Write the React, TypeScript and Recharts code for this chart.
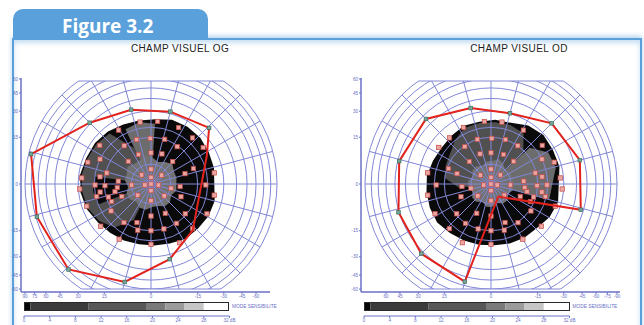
import React from 'react';
import {
  ComposedChart,
  BarChart,
  Bar,
  Scatter,
  XAxis,
  YAxis,
  ReferenceLine,
  RadarChart,
  Radar,
  PolarGrid,
  PolarAngleAxis,
  PolarRadiusAxis,
} from 'recharts';

const FONT = '"Liberation Sans", Arial, Helvetica, sans-serif';
const AXIS_BLUE = '#6b71c6';
const GRID_BLUE = '#8287d6';
const FRAME_BLUE = '#5aa0da';

// Perimeter projection: eccentricity (degrees) -> radius, 1 at 90 degrees
const K = 13;
const toR = (ecc: number) => Math.log(1 + ecc / K) / Math.log(1 + 90 / K);
const signedR = (v: number) => Math.sign(v) * toR(Math.abs(v));
const polar = (angle: number, ecc: number) => {
  const r = toR(ecc);
  const a = (angle * Math.PI) / 180;
  return { x: r * Math.cos(a), y: r * Math.sin(a) };
};

// ---------- grid & axes ----------
const MERIDIANS = [0, 15, 30, 45, 60, 75, 90, 105, 120, 135, 150, 165, 180, 195, 210, 225, 240, 255, 270, 285, 300, 315, 330, 345];
const RING_DEG = [5, 15, 20, 30, 40, 50, 60, 70, 80, 90];
const Y_TICK_DEG = [60, 45, 30, 15, 0, -15, -30, -45, -60];
const OG_X_TICK_DEG = [90, 75, 60, 45, 30, 15, 0, -15, -30, -45, -60];
const OD_X_TICK_DEG = [60, 45, 30, 15, 0, -15, -30, -45, -60, -75, -90];

// ---------- sensitivity maps: extent (deg) of each shade along each meridian ----------
const OG_DISK = [24.8, 25.4, 26.4, 26.7, 26.4, 24.8, 24.5, 25.2, 26.7, 27.7, 27.9, 29.1, 28.7, 27.4, 25.1, 24.0, 23.4, 22.7, 22.7, 23.2, 24.6, 24.7, 25.4, 25.4];
const OG_GRAY = [0, 0, 0, 0, 0, 0, 0, 12, 25, 26.5, 27, 28, 27.5, 26.5, 24, 20, 12, 0, 0, 0, 0, 0, 0, 0];
const OG_LIGHT = [0, 0, 0, 0, 0, 22, 23.5, 22, 0, 0, 0, 0, 0, 0, 0, 0, 0, 0, 0, 0, 0, 0, 0, 0];
const OG_HOLE = [0, 0, 0, 0, 0, 0, 0, 0, 0, 0, 0, 20, 21, 20, 0, 0, 0, 0, 0, 0, 0, 0, 0, 0];
const OG_CENTER = [7, 7, 8, 7, 6, 7, 8, 7, 7, 8, 7, 7, 6, 7, 7, 6, 7, 7, 6, 6, 7, 7, 6, 7];

const OD_DISK = [28.5, 28.5, 29.3, 27.6, 24.4, 24.4, 23.8, 24.4, 23.2, 22.6, 23.3, 24.6, 24.8, 25.2, 25.6, 24.1, 23.4, 23.0, 22.6, 23.2, 23.7, 24.0, 26.3, 27.7];
const OD_GRAY = [0, 8, 14, 22, 23, 23, 23, 23, 20, 17, 16, 15, 9, 0, 0, 0, 0, 0, 0, 0, 0, 0, 0, 0];
const OD_LIGHT = [26, 25, 18, 0, 0, 0, 0, 0, 0, 0, 0, 0, 0, 0, 0, 0, 0, 0, 0, 0, 0, 0, 0, 22];
const OD_CENTER = [6, 6, 5, 6, 7, 6, 6, 5, 6, 6, 5, 6, 6, 5, 6, 6, 5, 6, 6, 5, 6, 6, 5, 6];

// ---------- kinetic isopters: [meridian, eccentricity, tested point 1/0] ----------
const OG_ISOPTER: [number, number, number][] = [
  [166, 86, 1], [135, 41, 1], [105, 33, 1], [75, 31.5, 1], [44, 36, 1], [27, 23.4, 0],
  [312, 23.2, 0], [284, 33.4, 1], [255, 55.8, 1], [226, 78.5, 1], [196, 78.4, 1],
];
const OD_ISOPTER: [number, number, number][] = [
  [105, 34.3, 1], [75, 30.3, 1], [45, 40.2, 1], [15, 45.9, 1], [344, 47.3, 1], [300, 3.5, 0],
  [255, 55.4, 1], [225, 52.6, 1], [197, 50.7, 1], [166, 48.5, 1], [135, 45.9, 1],
];

// ---------- static test locations (left eye), [meridian, eccentricity] ----------
const OG_TESTS: [number, number][] = [
  [0, 0], [90, 1.5], [270, 1.5], [189, 1.4], [352, 1.7],
  [90, 3.6], [270, 4.1], [136, 3.1], [40, 3.3], [220, 4.3], [318, 4.4], [183, 4.9], [348, 5.2],
  [90, 8.7], [70, 9], [113, 9], [135, 9], [46, 8.7], [355, 8], [175, 9.3], [186, 9.7], [337, 9.2],
  [296, 9.2], [270, 9], [203, 8.9], [17, 10.3], [192, 10.8],
  [250, 12.5], [204, 13.4], [197, 14], [166, 14.5], [182, 14.7], [108, 15], [91, 14.5], [73, 15],
  [125, 15], [55, 14.5], [20, 14.3], [319, 14.4], [214, 15.7], [235, 15.2], [303, 15.1], [270, 15],
  [254, 15.6], [286, 15],
  [172, 17.3], [189, 17.3], [359, 19], [193, 19.5], [181, 19.6], [154, 20], [270, 22], [313, 22.4],
  [48, 23], [100, 23.5], [84, 23.5], [121, 23.5], [64, 23.5], [332, 23.8], [240, 24], [35, 24],
  [143, 24.3], [10, 24.3], [350, 24.3], [296, 25], [220, 25.2], [161, 26], [199, 26.7], [175, 27.7],
  [184, 29],
];
// the right eye uses the mirrored grid
const OD_TESTS: [number, number][] = OG_TESTS.map(([a, e]) => [(540 - a) % 360, e]);

// ---------- sensitivity scale ----------
const LEGEND_EDGES = [0, 1, 10, 19, 22, 25, 28, 32];
const LEGEND_SHADES = ['#050505', '#3b3b3b', '#575757', '#7a7a7a', '#9b9b9b', '#c6c6c6', '#ffffff'];
const LEGEND_TICKS = [0, 4, 8, 12, 16, 20, 24, 28, 32];

// ---------- layout ----------
const H = 325;
const CY = 184;
const R = 126;
const PLOT_TOP = 78;
const PLOT_BOTTOM = 292;
const CLIP_TOP = 81;
const CLIP_BOTTOM = 289;
const XAXIS_H = 10;

type Layer = { values: number[]; color: string };

type PanelProps = {
  title: string;
  titleX: number;
  left: number;
  width: number;
  cx: number;
  plotLeft: number;
  plotRight: number;
  xTicks: number[];
  layers: Layer[];
  isopter: [number, number, number][];
  tests: [number, number][];
  legendLeft: number;
};

const square = (size: number, fill: string, stroke: string) => (p: any) => (
  <rect x={p.cx - size / 2} y={p.cy - size / 2} width={size} height={size} fill={fill} stroke={stroke} strokeWidth={0.7} />
);

const findLabel = (list: number[], pos: (v: number) => number) => (val: number) => {
  const hit = list.find((t) => Math.abs(pos(t) - val) < 1e-6);
  return hit === undefined ? '' : String(hit);
};

const tickStyle = { fontSize: 4.6, fill: AXIS_BLUE, fontFamily: FONT };

function Panel(props: PanelProps) {
  const { title, titleX, left, width, cx, plotLeft, plotRight, xTicks, layers, isopter, tests, legendLeft } = props;

  const mapRows = MERIDIANS.map((m, i) => {
    const row: Record<string, number> = { meridian: m };
    layers.forEach((l, j) => {
      row[`l${j}`] = l.values[i];
    });
    return row;
  });

  const testPts = tests.map(([a, e]) => polar(a, e));
  const outline = [...isopter, isopter[0]].map(([a, e]) => polar(a, e));
  const marks = isopter.filter((v) => v[2] === 1).map(([a, e]) => polar(a, e));

  const xPos = (v: number) => -signedR(v);
  const yTop = (CY - CLIP_TOP) / R;
  const yBot = -(CLIP_BOTTOM - CY) / R;
  const halfTop = Math.sqrt(1 - yTop * yTop);
  const halfBot = Math.sqrt(1 - yBot * yBot);

  // meridians are 15 deg apart, counter-clockwise from the horizontal
  const radarCommon = {
    width,
    height: H,
    data: mapRows,
    cx: cx - left,
    cy: CY,
    outerRadius: R,
    innerRadius: 0,
    startAngle: 0,
    endAngle: 345,
    margin: { top: 0, right: 0, bottom: 0, left: 0 },
  };

  return (
    <>
      <div
        style={{
          position: 'absolute',
          left: titleX - 80,
          width: 160,
          top: 43,
          textAlign: 'center',
          fontFamily: FONT,
          fontSize: 10,
          letterSpacing: 0.4,
          lineHeight: '12px',
          color: '#1e1e1e',
        }}
      >
        {title}
      </div>

      {/* sensitivity map */}
      <div style={{ position: 'absolute', left, top: 0 }}>
        <RadarChart {...radarCommon}>
          <PolarAngleAxis dataKey="meridian" tick={false} axisLine={false} tickLine={false} />
          <PolarRadiusAxis type="number" domain={[0, 1]} tick={false} axisLine={false} tickLine={false} />
          {layers.map((l, j) => (
            <Radar
              key={j}
              name={`shade${j}`}
              dataKey={(d: any) => toR(d[`l${j}`])}
              fill={l.color}
              fillOpacity={1}
              stroke="none"
              dot={false}
              isAnimationActive={false}
            />
          ))}
        </RadarChart>
      </div>

      {/* polar grid, cut at +/-60 deg */}
      <div style={{ position: 'absolute', left, top: CLIP_TOP, width, height: CLIP_BOTTOM - CLIP_TOP, overflow: 'hidden' }}>
        <div style={{ position: 'absolute', left: 0, top: -CLIP_TOP }}>
          <RadarChart {...radarCommon}>
            <PolarGrid
              gridType="circle"
              polarAngles={MERIDIANS}
              polarRadius={RING_DEG.map((d) => toR(d) * R)}
              stroke={GRID_BLUE}
              strokeWidth={1}
            />
          </RadarChart>
        </div>
      </div>

      {/* axes, isopter and test locations */}
      <div style={{ position: 'absolute', left, top: 0 }}>
        <ComposedChart
          width={width}
          height={H}
          margin={{ top: PLOT_TOP, bottom: H - PLOT_BOTTOM - XAXIS_H, left: 0, right: left + width - plotRight }}
        >
          <XAxis
            type="number"
            dataKey="x"
            domain={[(plotLeft - cx) / R, (plotRight - cx) / R]}
            allowDataOverflow
            ticks={xTicks.map(xPos)}
            interval={0}
            tickFormatter={findLabel(xTicks, xPos)}
            height={XAXIS_H}
            tickSize={2}
            tickMargin={1}
            axisLine={{ stroke: AXIS_BLUE, strokeWidth: 1.5 }}
            tickLine={{ stroke: AXIS_BLUE }}
            tick={tickStyle}
          />
          <YAxis
            type="number"
            dataKey="y"
            domain={[(CY - PLOT_BOTTOM) / R, (CY - PLOT_TOP) / R]}
            allowDataOverflow
            ticks={Y_TICK_DEG.map(signedR)}
            interval={0}
            tickFormatter={findLabel(Y_TICK_DEG, signedR)}
            width={plotLeft - left}
            tickSize={2}
            tickMargin={1}
            axisLine={{ stroke: AXIS_BLUE, strokeWidth: 1.5 }}
            tickLine={{ stroke: AXIS_BLUE }}
            tick={tickStyle}
          />
          <ReferenceLine segment={[{ x: -halfTop, y: yTop }, { x: halfTop, y: yTop }]} stroke={GRID_BLUE} strokeWidth={1} />
          <ReferenceLine segment={[{ x: -halfBot, y: yBot }, { x: halfBot, y: yBot }]} stroke={GRID_BLUE} strokeWidth={1} />
          <Scatter data={testPts} shape={square(4.4, '#eaa5a0', '#c24b47')} isAnimationActive={false} />
          <Scatter
            data={outline}
            line={{ stroke: '#e2231d', strokeWidth: 2 }}
            lineType="joint"
            shape={() => <g />}
            isAnimationActive={false}
          />
          <Scatter data={marks} shape={square(3.6, '#74a597', '#3f6f62')} isAnimationActive={false} />
        </ComposedChart>
      </div>

      <SensitivityLegend left={legendLeft} />
    </>
  );
}

const LEG_W = 205.5;
const LEG_BAR_H = 8.5;
const LEG_SIDE = 8;

function SensitivityLegend({ left }: { left: number }) {
  const row: Record<string, number | string> = { name: 'dB' };
  LEGEND_SHADES.forEach((_, i) => {
    row[`s${i}`] = LEGEND_EDGES[i + 1] - LEGEND_EDGES[i];
  });
  const tickRows = LEGEND_TICKS.map((db) => ({ db }));
  const margin = { top: 0, right: LEG_SIDE, bottom: 0, left: LEG_SIDE };
  return (
    <>
      <div style={{ position: 'absolute', left: left - LEG_SIDE, top: 302 }}>
        <BarChart
          width={LEG_W + 2 * LEG_SIDE}
          height={LEG_BAR_H}
          data={[row]}
          layout="vertical"
          barCategoryGap={0}
          margin={margin}
        >
          <XAxis type="number" domain={[0, 32]} hide />
          <YAxis type="category" dataKey="name" hide />
          {LEGEND_SHADES.map((shade, i) => (
            <Bar key={i} dataKey={`s${i}`} stackId="scale" fill={shade} isAnimationActive={false} />
          ))}
        </BarChart>
      </div>
      <div
        style={{
          position: 'absolute',
          left,
          top: 302,
          width: LEG_W,
          height: LEG_BAR_H,
          boxSizing: 'border-box',
          border: '1px solid #2a2a2a',
        }}
      />
      <div style={{ position: 'absolute', left: left - LEG_SIDE, top: 314 }}>
        <ComposedChart width={LEG_W + 2 * LEG_SIDE} height={12} data={tickRows} margin={{ ...margin, top: 2 }}>
          <XAxis
            type="number"
            dataKey="db"
            domain={[0, 32]}
            ticks={LEGEND_TICKS}
            interval={0}
            tickFormatter={(v: number) => (v === 32 ? '32 dB' : String(v))}
            height={10}
            tickSize={2}
            tickMargin={1}
            axisLine={{ stroke: AXIS_BLUE, strokeWidth: 1 }}
            tickLine={{ stroke: AXIS_BLUE }}
            tick={tickStyle}
          />
          <YAxis type="number" domain={[0, 1]} hide />
        </ComposedChart>
      </div>
      <div
        style={{
          position: 'absolute',
          left: left + LEG_W + 3,
          top: 304,
          fontFamily: FONT,
          fontSize: 4.8,
          lineHeight: '6px',
          color: AXIS_BLUE,
          whiteSpace: 'nowrap',
        }}
      >
        MODE SENSIBILITE
      </div>
    </>
  );
}

export default function App() {
  return (
    <div style={{ position: 'absolute', left: 0, top: 0, width: 644, height: 325, background: '#ffffff', overflow: 'hidden' }}>
      {/* frame */}
      <div
        style={{
          position: 'absolute',
          left: 12,
          top: 38,
          width: 626,
          height: 320,
          border: `2px solid ${FRAME_BLUE}`,
          borderBottom: 'none',
          boxShadow: '0 -2px 5px rgba(90,160,218,0.45), inset 0 3px 5px rgba(90,160,218,0.35)',
        }}
      />
      {/* figure tab */}
      <div style={{ position: 'absolute', left: 13, top: 9, width: 195, height: 31, background: FRAME_BLUE, borderRadius: '10px 10px 0 0' }} />
      <div
        style={{
          position: 'absolute',
          left: 62,
          top: 17,
          fontFamily: '"Open Sans", "DejaVu Sans", sans-serif',
          fontWeight: 700,
          fontSize: 19,
          lineHeight: '19px',
          color: '#ffffff',
          whiteSpace: 'nowrap',
        }}
      >
        Figure 3.2
      </div>

      <Panel
        title="CHAMP VISUEL OG"
        titleX={180}
        left={0}
        width={320}
        cx={151}
        plotLeft={21}
        plotRight={270}
        xTicks={OG_X_TICK_DEG}
        layers={[
          { values: OG_DISK, color: '#0a0a0a' },
          { values: OG_GRAY, color: '#505050' },
          { values: OG_LIGHT, color: '#6c6c6c' },
          { values: OG_HOLE, color: '#0a0a0a' },
          { values: OG_CENTER, color: '#727272' },
        ]}
        isopter={OG_ISOPTER}
        tests={OG_TESTS}
        legendLeft={23.5}
      />
      <Panel
        title="CHAMP VISUEL OD"
        titleX={519}
        left={320}
        width={324}
        cx={491}
        plotLeft={361}
        plotRight={620}
        xTicks={OD_X_TICK_DEG}
        layers={[
          { values: OD_DISK, color: '#0a0a0a' },
          { values: OD_GRAY, color: '#505050' },
          { values: OD_LIGHT, color: '#6c6c6c' },
          { values: OD_CENTER, color: '#727272' },
        ]}
        isopter={OD_ISOPTER}
        tests={OD_TESTS}
        legendLeft={364}
      />
    </div>
  );
}
